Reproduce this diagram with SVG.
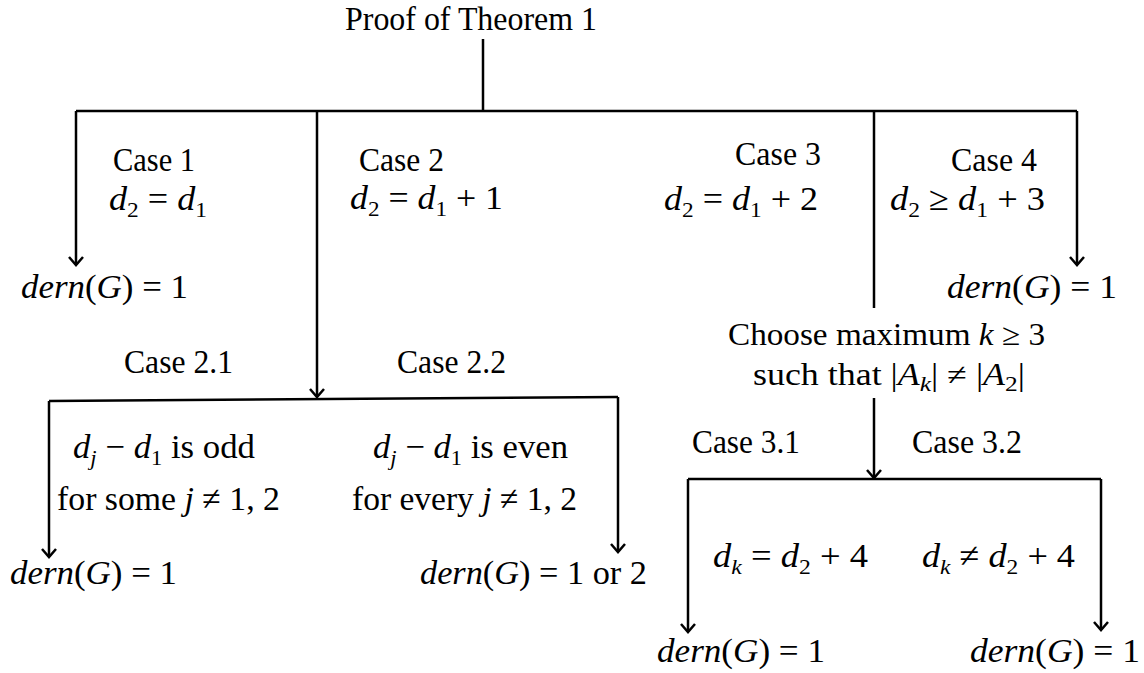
<svg xmlns="http://www.w3.org/2000/svg" width="1144" height="673" viewBox="0 0 1144 673">
  <style>
    text { font-family: "Liberation Serif", "Times New Roman", serif; font-size: 34px; fill: #000; }
    .mi { font-style: italic; }
    .sub { font-size: 22px; }
    .sub2 { font-size: 22px; font-style: italic; }
    .small { font-size: 31px; }
    .conn path { fill: none; stroke: #000; stroke-width: 2.5; }
  </style>
  <defs>
    <marker id="arr" markerUnits="userSpaceOnUse" markerWidth="20" markerHeight="20" refX="10" refY="10" orient="auto">
      <path d="M2,3 L10,10 L2,17" fill="none" stroke="#000" stroke-width="2.5"/>
    </marker>
  </defs>
  <rect width="1144" height="673" fill="#fff"/>

  <g id="connectors" class="conn">
    <path d="M483,39 V111"/>
    <path d="M76,111 H1077"/>
    <path d="M76,111 V265" marker-end="url(#arr)"/>
    <path d="M317,111 V397" marker-end="url(#arr)"/>
    <path d="M874,111 V308"/>
    <path d="M1077,111 V265" marker-end="url(#arr)"/>
    <path d="M49,401 L618,397"/>
    <path d="M49,401 V557" marker-end="url(#arr)"/>
    <path d="M618,397 V552" marker-end="url(#arr)"/>
    <path d="M874,398 V478" marker-end="url(#arr)"/>
    <path d="M688,479 H1101"/>
    <path d="M688,479 V632" marker-end="url(#arr)"/>
    <path d="M1101,479 V630" marker-end="url(#arr)"/>
  </g>

  <g id="root"><text x="345" y="30" textLength="252" lengthAdjust="spacingAndGlyphs">Proof of Theorem 1</text></g>

  <g id="case1">
    <text x="113" y="171" textLength="82" lengthAdjust="spacingAndGlyphs">Case 1</text>
    <text x="109" y="210" textLength="98" lengthAdjust="spacingAndGlyphs"><tspan class="mi">d</tspan><tspan class="sub" dy="7">2</tspan><tspan dy="-7"> = </tspan><tspan class="mi">d</tspan><tspan class="sub" dy="7">1</tspan></text>
  </g>
  <g id="case1-result"><text x="21" y="298" textLength="167" lengthAdjust="spacingAndGlyphs"><tspan class="mi">dern</tspan>(<tspan class="mi">G</tspan>) = 1</text></g>

  <g id="case2">
    <text x="359" y="171" textLength="85" lengthAdjust="spacingAndGlyphs">Case 2</text>
    <text x="350" y="209" textLength="153" lengthAdjust="spacingAndGlyphs"><tspan class="mi">d</tspan><tspan class="sub" dy="7">2</tspan><tspan dy="-7"> = </tspan><tspan class="mi">d</tspan><tspan class="sub" dy="7">1</tspan><tspan dy="-7"> + 1</tspan></text>
  </g>

  <g id="case3">
    <text x="735" y="165" textLength="86" lengthAdjust="spacingAndGlyphs">Case 3</text>
    <text x="664" y="210" textLength="154" lengthAdjust="spacingAndGlyphs"><tspan class="mi">d</tspan><tspan class="sub" dy="7">2</tspan><tspan dy="-7"> = </tspan><tspan class="mi">d</tspan><tspan class="sub" dy="7">1</tspan><tspan dy="-7"> + 2</tspan></text>
  </g>

  <g id="case4">
    <text x="951" y="171" textLength="86" lengthAdjust="spacingAndGlyphs">Case 4</text>
    <text x="890" y="210" textLength="155" lengthAdjust="spacingAndGlyphs"><tspan class="mi">d</tspan><tspan class="sub" dy="7">2</tspan><tspan dy="-7"> ≥ </tspan><tspan class="mi">d</tspan><tspan class="sub" dy="7">1</tspan><tspan dy="-7"> + 3</tspan></text>
  </g>
  <g id="case4-result"><text x="947" y="298" textLength="170" lengthAdjust="spacingAndGlyphs"><tspan class="mi">dern</tspan>(<tspan class="mi">G</tspan>) = 1</text></g>

  <g id="choose">
    <text class="small" x="728" y="345" textLength="317" lengthAdjust="spacingAndGlyphs">Choose maximum <tspan class="mi">k</tspan> ≥ 3</text>
    <text class="small" x="753" y="385" textLength="272" lengthAdjust="spacingAndGlyphs">such that |<tspan class="mi">A</tspan><tspan class="sub2" dy="6">k</tspan><tspan dy="-6">| ≠ |</tspan><tspan class="mi">A</tspan><tspan class="sub" dy="6">2</tspan><tspan dy="-6">|</tspan></text>
  </g>

  <g id="case2-1">
    <text x="124" y="373" textLength="109" lengthAdjust="spacingAndGlyphs">Case 2.1</text>
    <text x="73" y="458" textLength="182" lengthAdjust="spacingAndGlyphs"><tspan class="mi">d</tspan><tspan class="sub2" dy="7">j</tspan><tspan dy="-7"> − </tspan><tspan class="mi">d</tspan><tspan class="sub" dy="7">1</tspan><tspan dy="-7"> is odd</tspan></text>
    <text x="57" y="510" textLength="223" lengthAdjust="spacingAndGlyphs">for some <tspan class="mi">j</tspan> ≠ 1, 2</text>
  </g>
  <g id="case2-1-result"><text x="10" y="584" textLength="167" lengthAdjust="spacingAndGlyphs"><tspan class="mi">dern</tspan>(<tspan class="mi">G</tspan>) = 1</text></g>

  <g id="case2-2">
    <text x="397" y="373" textLength="109" lengthAdjust="spacingAndGlyphs">Case 2.2</text>
    <text x="373" y="458" textLength="195" lengthAdjust="spacingAndGlyphs"><tspan class="mi">d</tspan><tspan class="sub2" dy="7">j</tspan><tspan dy="-7"> − </tspan><tspan class="mi">d</tspan><tspan class="sub" dy="7">1</tspan><tspan dy="-7"> is even</tspan></text>
    <text x="352" y="510" textLength="225" lengthAdjust="spacingAndGlyphs">for every <tspan class="mi">j</tspan> ≠ 1, 2</text>
  </g>
  <g id="case2-2-result"><text x="420" y="584" textLength="227" lengthAdjust="spacingAndGlyphs"><tspan class="mi">dern</tspan>(<tspan class="mi">G</tspan>) = 1 or 2</text></g>

  <g id="case3-1">
    <text x="692" y="453" textLength="108" lengthAdjust="spacingAndGlyphs">Case 3.1</text>
    <text x="713" y="567" textLength="155" lengthAdjust="spacingAndGlyphs"><tspan class="mi">d</tspan><tspan class="sub2" dy="7">k</tspan><tspan dy="-7"> = </tspan><tspan class="mi">d</tspan><tspan class="sub" dy="7">2</tspan><tspan dy="-7"> + 4</tspan></text>
  </g>
  <g id="case3-1-result"><text x="657" y="662" textLength="168" lengthAdjust="spacingAndGlyphs"><tspan class="mi">dern</tspan>(<tspan class="mi">G</tspan>) = 1</text></g>

  <g id="case3-2">
    <text x="912" y="453" textLength="110" lengthAdjust="spacingAndGlyphs">Case 3.2</text>
    <text x="922" y="567" textLength="153" lengthAdjust="spacingAndGlyphs"><tspan class="mi">d</tspan><tspan class="sub2" dy="7">k</tspan><tspan dy="-7"> ≠ </tspan><tspan class="mi">d</tspan><tspan class="sub" dy="7">2</tspan><tspan dy="-7"> + 4</tspan></text>
  </g>
  <g id="case3-2-result"><text x="970" y="662" textLength="170" lengthAdjust="spacingAndGlyphs"><tspan class="mi">dern</tspan>(<tspan class="mi">G</tspan>) = 1</text></g>
</svg>
